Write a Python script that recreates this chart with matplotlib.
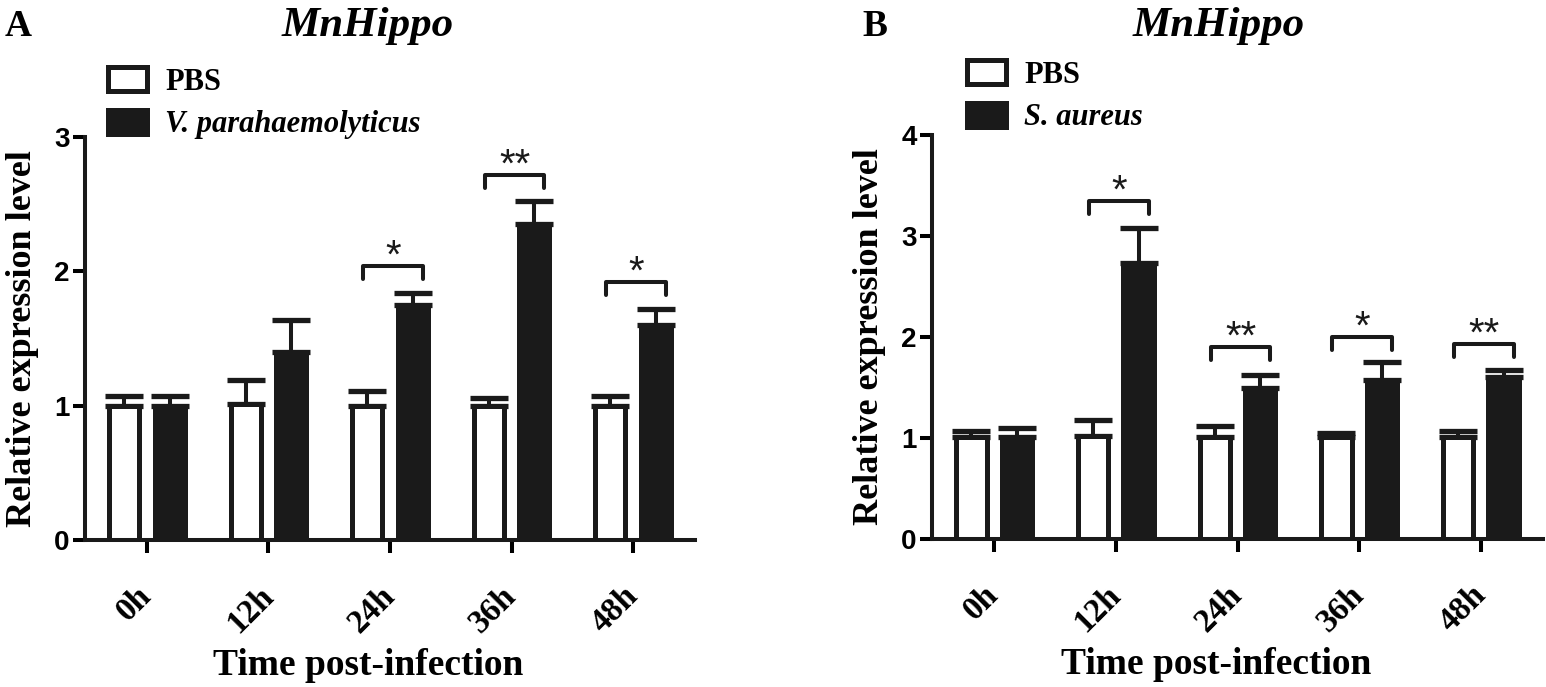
import numpy as np
import matplotlib
matplotlib.use("Agg")
import matplotlib.pyplot as plt
from matplotlib.patches import Patch
from matplotlib.transforms import ScaledTranslation

# data
times = ["0h", "12h", "24h", "36h", "48h"]

a_pbs = [1.00, 1.01, 1.00, 1.00, 1.00]
a_pbs_err = [0.07, 0.18, 0.11, 0.06, 0.07]
a_inf = [1.00, 1.40, 1.75, 2.35, 1.60]
a_inf_err = [0.07, 0.24, 0.09, 0.17, 0.12]
a_sig = ["", "", "*", "**", "*"]
a_bracket = [None, None, 2.04, 2.72, 1.92]

b_pbs = [1.01, 1.02, 1.01, 1.01, 1.01]
b_pbs_err = [0.06, 0.16, 0.11, 0.04, 0.06]
b_inf = [1.01, 2.73, 1.50, 1.57, 1.60]
b_inf_err = [0.09, 0.35, 0.12, 0.18, 0.07]
b_sig = ["", "*", "**", "*", "**"]
b_bracket = [None, 3.35, 1.90, 2.00, 1.93]

SERIF = "Liberation Serif"
SANS = "Liberation Sans"
DARK = "#1a1a1a"

W, H = 1546, 687
fig = plt.figure(figsize=(W / 100, H / 100), dpi=100)


def px(x0, y0, x1, y1):
    # axes rectangle from pixel box (top-left origin)
    return [x0 / W, 1 - y1 / H, (x1 - x0) / W, (y1 - y0) / H]


def panel(rect, pbs, pbs_err, inf, inf_err, sig, bracket, ymax, inf_name,
          letter, letter_x, title_x, leg_xy):
    ax = fig.add_axes(rect)
    x = np.arange(len(times))
    off, w = 0.187, 0.25
    ax.bar(x - off, pbs, w, color="white", edgecolor=DARK, linewidth=3.6,
           joinstyle="round", zorder=2)
    ax.bar(x + off, inf, w, color=DARK, edgecolor=DARK, linewidth=3.6,
           joinstyle="round", zorder=2)
    zeros = np.zeros(len(x))
    for xs, ys, es in [(x - off, pbs, pbs_err), (x + off, inf, inf_err)]:
        ax.errorbar(xs, ys, yerr=[zeros, es], fmt="none", ecolor=DARK,
                    elinewidth=2.9, capsize=14, capthick=3.8, zorder=1)

    # significance brackets, legs about 13 px long
    unit_px = rect[3] * H / ymax
    leg = 13 / unit_px
    star_shift = ScaledTranslation(0, -2 / 100, fig.dpi_scale_trans)
    for i, (s, yb) in enumerate(zip(sig, bracket)):
        if yb is None:
            continue
        xl, xr = i - 0.22, i + 0.27
        ax.plot([xl, xl, xr, xr], [yb - leg, yb, yb, yb - leg], color=DARK,
                lw=2.9, solid_capstyle="round", solid_joinstyle="round")
        ax.text((xl + xr) / 2, yb, s, ha="center", va="baseline",
                fontsize=29, family=SANS, color=DARK,
                transform=ax.transData + star_shift)

    ax.set_xlim(-0.51, 4.51)
    ax.set_ylim(0, ymax)
    ax.set_yticks(range(ymax + 1))
    ax.set_xticks(x)
    ax.set_xticklabels(times, rotation=45, ha="right", va="center",
                       rotation_mode="anchor", fontsize=24, family=SERIF,
                       fontweight="bold")
    for lab in ax.get_xticklabels():
        lab.set_transform(lab.get_transform() +
                          ScaledTranslation(6 / 100, 0, fig.dpi_scale_trans))
    for lab in ax.get_yticklabels():
        lab.set_fontsize(20)
        lab.set_family(SANS)
        lab.set_fontweight("bold")
    ax.tick_params(axis="y", length=9, width=2.9, pad=2)
    ax.tick_params(axis="x", length=9, width=2.9, pad=28)
    for side in ["top", "right"]:
        ax.spines[side].set_visible(False)
    for side in ["left", "bottom"]:
        ax.spines[side].set_linewidth(2.9)
        ax.spines[side].set_color(DARK)

    ax.set_ylabel("Relative expression level", fontsize=26, family=SERIF,
                  fontweight="bold")
    ax.yaxis.set_label_coords(-0.076, 0.5)
    ax.set_xlabel("Time post-infection", fontsize=27, family=SERIF,
                  fontweight="bold")
    ax.xaxis.set_label_coords(0.465, -0.268)

    fig.text(letter_x / W, 1 - 27 / H, letter, fontsize=27, family=SERIF,
             fontweight="bold", va="center", ha="left")
    fig.text(title_x / W, 1 - 26 / H, "MnHippo", fontsize=31, family=SERIF,
             fontweight="bold", style="italic", va="center", ha="center")

    handles = [Patch(facecolor="white", edgecolor=DARK, linewidth=3.6,
                     joinstyle="round"),
               Patch(facecolor=DARK, edgecolor=DARK, linewidth=3.6,
                     joinstyle="round")]
    lg = ax.legend(handles, ["PBS", inf_name], loc="upper left",
                   bbox_to_anchor=(leg_xy[0] / W, 1 - leg_xy[1] / H),
                   bbox_transform=fig.transFigure, frameon=False,
                   borderpad=0, borderaxespad=0, handlelength=1.27,
                   handleheight=0.85, handletextpad=0.6, labelspacing=0.42,
                   prop={"family": SERIF, "weight": "bold", "size": 22})
    lg.get_texts()[1].set_fontstyle("italic")
    return ax


panel(px(85, 137, 695, 540), a_pbs, a_pbs_err, a_inf, a_inf_err, a_sig,
      a_bracket, 3, "V. parahaemolyticus", "A", 5, 368, (108, 67))
panel(px(932, 135, 1543, 539), b_pbs, b_pbs_err, b_inf, b_inf_err, b_sig,
      b_bracket, 4, "S. aureus", "B", 862, 1219, (967, 60))

fig.savefig("out.png", dpi=100)
